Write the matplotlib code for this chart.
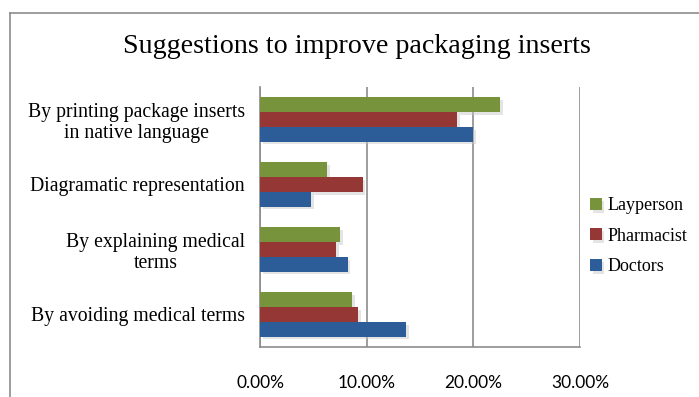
import numpy as np
import matplotlib.pyplot as plt
from matplotlib.lines import Line2D
from matplotlib import patheffects as pe

categories = [
    "By printing package inserts\nin native language",
    "Diagramatic representation",
    "By explaining medical\nterms",
    "By avoiding medical terms",
]
series_names = ["Layperson", "Pharmacist", "Doctors"]
layperson = [22.5, 6.3, 7.5, 8.6]
pharmacist = [18.5, 9.6, 7.1, 9.2]
doctors = [20.0, 4.8, 8.2, 13.7]
x_ticks = [0, 10, 20, 30]

colors = {"Layperson": "#77933C", "Pharmacist": "#953735", "Doctors": "#2C5D98"}
values = {"Layperson": layperson, "Pharmacist": pharmacist, "Doctors": doctors}

fig = plt.figure(figsize=(6.99, 3.97), dpi=100)
fig.patch.set_facecolor("white")
ax = fig.add_axes([0.3724, 0.126, 0.8297 - 0.3724, 0.781 - 0.126])

n = len(categories)
pos = np.arange(n)[::-1].astype(float)  # first category on top
h = 0.227
offsets = {"Layperson": -h, "Pharmacist": 0.0, "Doctors": h}
shadow = [pe.SimplePatchShadow(offset=(2, -2), shadow_rgbFace="#c4c4c4", alpha=0.45), pe.Normal()]

for name in series_names:
    ax.barh(pos - offsets[name], values[name], height=h, color=colors[name],
            label=name, zorder=3, path_effects=shadow)

ax.set_xlim(0, 30)
ax.set_ylim(-0.5, n - 0.5)
ax.set_xticks(x_ticks)
ax.set_xticklabels([f"{v/100:.2%}" for v in x_ticks], fontsize=12.5, family="Lato")
ax.tick_params(axis="x", length=0, pad=20)
ax.set_yticks(pos)
ax.set_yticklabels(categories, fontsize=14.2, family="Liberation Serif",
                   multialignment="center", linespacing=1.12)
ax.tick_params(axis="y", length=0, pad=11)
ax.grid(axis="x", color="#8c8c8c", linewidth=1.2, zorder=0)
for s in ["top", "right"]:
    ax.spines[s].set_visible(False)
for s in ["left", "bottom"]:
    ax.spines[s].set_color("#8c8c8c")
    ax.spines[s].set_linewidth(1.2)

fig.text(0.51, 0.884, "Suggestions to improve packaging inserts", ha="center", va="center",
         fontsize=20.2, family="Liberation Serif")

handles, labels = ax.get_legend_handles_labels()
leg = fig.legend(handles, labels, loc="center left", bbox_to_anchor=(0.844, 0.405),
                 frameon=False, prop={"family": "Liberation Serif", "size": 13},
                 handlelength=0.65, handleheight=0.65, handletextpad=0.3,
                 labelspacing=0.75, borderpad=0, borderaxespad=0)

# chart area border (only top and left visible in the crop)
fig.add_artist(Line2D([10 / 699, 1.0], [1 - 13 / 397, 1 - 13 / 397], transform=fig.transFigure,
                      color="#8c8c8c", linewidth=1.2))
fig.add_artist(Line2D([10 / 699, 10 / 699], [0, 1 - 13 / 397], transform=fig.transFigure,
                      color="#8c8c8c", linewidth=1.2))

fig.savefig("out.png", dpi=100, facecolor="white")
